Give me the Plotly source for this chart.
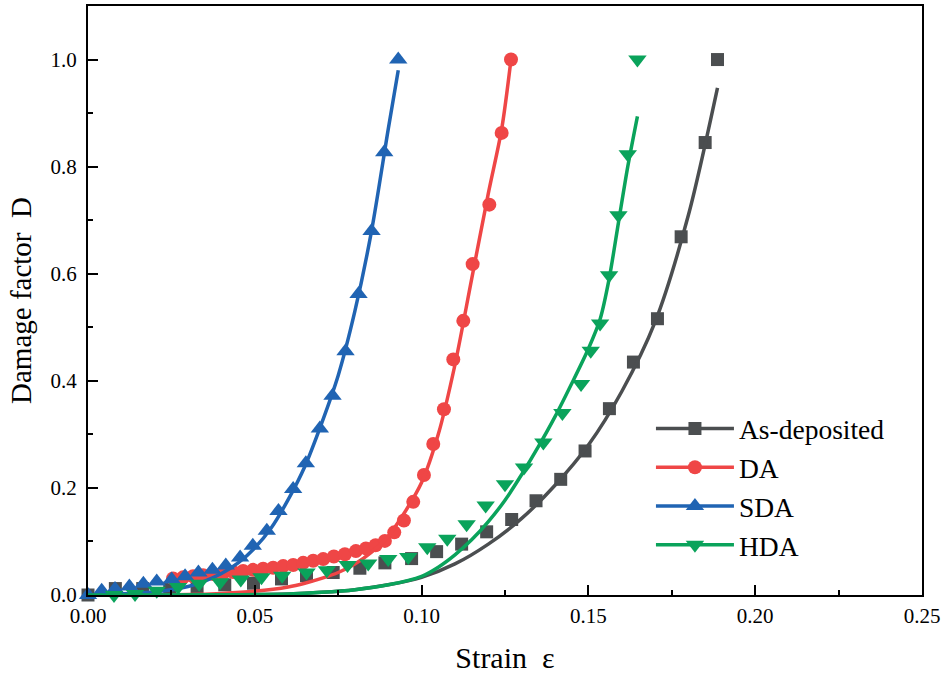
import plotly.graph_objects as go

# ---------------- data ----------------
series_names = ["As-deposited", "DA", "SDA", "HDA"]

asdep_x = [0, 0.0082, 0.0164, 0.0245, 0.0327, 0.041, 0.0496, 0.058, 0.0655, 0.0735,
           0.0815, 0.089, 0.097, 0.1045, 0.112, 0.1195, 0.127, 0.1343, 0.1417, 0.149,
           0.1563, 0.1635, 0.1707, 0.1778, 0.185, 0.1887]
asdep_y = [0, 0.012, 0.012, 0.013, 0.015, 0.019, 0.022, 0.030, 0.036, 0.042,
           0.050, 0.060, 0.068, 0.081, 0.095, 0.118, 0.141, 0.176, 0.216, 0.269,
           0.348, 0.435, 0.516, 0.669, 0.845, 1.0]
asdep_fit_x = [0, 0.03, 0.05, 0.06, 0.07, 0.08, 0.09, 0.10, 0.11, 0.12, 0.13, 0.14,
               0.15, 0.16, 0.17, 0.18, 0.1887]
asdep_fit_y = [0, 0.0, 0.001, 0.002, 0.005, 0.010, 0.019, 0.033, 0.058, 0.095, 0.143, 0.205,
               0.28, 0.38, 0.51, 0.71, 0.947]

da_x = [0.0255, 0.0285, 0.0315, 0.0345, 0.0375, 0.0405, 0.0435, 0.0465, 0.0495, 0.0525,
        0.0555, 0.0585, 0.0615, 0.0645, 0.0675, 0.0705, 0.0737, 0.077, 0.0803, 0.0833,
        0.0862, 0.089, 0.0918, 0.0947, 0.0975, 0.1007, 0.1035, 0.1067, 0.1095, 0.1125,
        0.1153, 0.1203, 0.124, 0.1268]
da_y = [0.031, 0.033, 0.035, 0.037, 0.039, 0.041, 0.043, 0.045, 0.047, 0.049,
        0.051, 0.054, 0.056, 0.060, 0.064, 0.067, 0.072, 0.076, 0.082, 0.087,
        0.093, 0.101, 0.117, 0.139, 0.174, 0.224, 0.282, 0.347, 0.440, 0.512,
        0.618, 0.729, 0.863, 1.0]
da_fit_x = [0, 0.03, 0.04, 0.05, 0.06, 0.065, 0.07, 0.075, 0.08, 0.085, 0.09, 0.095,
            0.1, 0.105, 0.11, 0.115, 0.12, 0.124, 0.1268]
da_fit_y = [0, 0.001, 0.003, 0.007, 0.015, 0.022, 0.031, 0.042, 0.058, 0.08, 0.11, 0.155,
            0.21, 0.30, 0.43, 0.59, 0.75, 0.87, 1.0]

sda_x = [0, 0.0041, 0.0081, 0.0124, 0.0166, 0.0206, 0.0251, 0.0291, 0.0331, 0.0373,
         0.0413, 0.0456, 0.0494, 0.0536, 0.0571, 0.0615, 0.0653, 0.0695, 0.0733, 0.0772,
         0.0811, 0.0850, 0.0888, 0.0930]
sda_y = [0, 0.008, 0.011, 0.016, 0.021, 0.025, 0.029, 0.035, 0.042, 0.047,
         0.055, 0.070, 0.092, 0.120, 0.157, 0.198, 0.246, 0.311, 0.372, 0.455,
         0.562, 0.680, 0.827, 1.0]
sda_fit_x = [0, 0.01, 0.02, 0.03, 0.035, 0.04, 0.045, 0.05, 0.055, 0.06, 0.065, 0.07,
             0.075, 0.08, 0.085, 0.09, 0.093]
sda_fit_y = [0, 0.002, 0.006, 0.016, 0.026, 0.040, 0.060, 0.088, 0.126, 0.178, 0.24, 0.32,
             0.41, 0.53, 0.68, 0.87, 0.98]

hda_x = [0.0078, 0.0141, 0.0206, 0.027, 0.0333, 0.0396, 0.0458, 0.052, 0.0582, 0.0655,
         0.0716, 0.0778, 0.084, 0.090, 0.096, 0.1017, 0.1077, 0.1135, 0.1192, 0.125,
         0.1307, 0.1365, 0.1422, 0.1478, 0.1507, 0.1535, 0.1562, 0.159, 0.1618, 0.1647]
hda_y = [0.0, 0.002, 0.008, 0.015, 0.021, 0.024, 0.029, 0.033, 0.036, 0.042,
         0.046, 0.056, 0.059, 0.067, 0.071, 0.089, 0.105, 0.132, 0.167, 0.207,
         0.238, 0.285, 0.340, 0.394, 0.456, 0.507, 0.597, 0.709, 0.823, 1.0]
hda_fit_x = [0, 0.04, 0.06, 0.07, 0.08, 0.09, 0.10, 0.105, 0.11, 0.115, 0.12, 0.125,
             0.13, 0.135, 0.14, 0.145, 0.15, 0.1535, 0.1562, 0.159, 0.1618, 0.1647]
hda_fit_y = [0, 0.0005, 0.002, 0.005, 0.010, 0.019, 0.035, 0.052, 0.075, 0.103, 0.137, 0.177,
             0.225, 0.277, 0.333, 0.395, 0.46, 0.515, 0.59, 0.695, 0.80, 0.894]

x_ticks = [0.00, 0.05, 0.10, 0.15, 0.20, 0.25]
y_ticks = [0.0, 0.2, 0.4, 0.6, 0.8, 1.0]

# ---------------- styles ----------------
colors = ["#4b4e50", "#ef4646", "#2064b3", "#0aa35b"]
symbols = ["square", "circle", "triangle-up", "triangle-down"]
sizes = [13, 14, 16, 16]

pts = [(asdep_x, asdep_y), (da_x, da_y), (sda_x, sda_y), (hda_x, hda_y)]
fits = [(asdep_fit_x, asdep_fit_y), (da_fit_x, da_fit_y), (sda_fit_x, sda_fit_y),
        (hda_fit_x, hda_fit_y)]

fig = go.Figure()
for i, name in enumerate(series_names):
    fig.add_trace(go.Scatter(
        x=pts[i][0], y=pts[i][1], mode="markers", name=name, showlegend=False,
        marker=dict(symbol=symbols[i], size=sizes[i], color=colors[i], line=dict(width=0)),
        cliponaxis=False))
    fig.add_trace(go.Scatter(
        x=fits[i][0], y=fits[i][1], mode="lines", name=name, showlegend=False,
        line=dict(color=colors[i], width=3.5, shape="spline", smoothing=0.8)))

# legend entries
for i, name in enumerate(series_names):
    fig.add_trace(go.Scatter(
        x=[None], y=[None], mode="lines+markers", name=name,
        marker=dict(symbol=symbols[i], size=sizes[i], color=colors[i]),
        line=dict(color=colors[i], width=3.5)))

FF = "Liberation Serif"
fig.update_layout(
    template="none",
    width=948, height=686,
    margin=dict(l=88, r=26, t=6, b=91),
    plot_bgcolor="white", paper_bgcolor="white",
    font=dict(family=FF, color="black", size=21),
    showlegend=True,
    legend=dict(x=0.675, y=0.324, xanchor="left", yanchor="top",
                font=dict(size=27.5, family=FF, color="black"), bgcolor="rgba(0,0,0,0)",
                itemwidth=78, tracegroupgap=0, borderwidth=0),
    xaxis=dict(range=[0, 0.25], tickvals=x_ticks, ticktext=[f"{v:.2f}" for v in x_ticks],
               ticks="inside", ticklen=10, tickwidth=2, tickcolor="black",
               minor=dict(ticks="inside", ticklen=5, tickwidth=2, dtick=0.025, tickcolor="black",
                          showgrid=False),
               showline=True, linewidth=2, linecolor="black", mirror=True,
               showgrid=False, zeroline=False,
               tickfont=dict(size=21, family=FF, color="black"), ticklabelstandoff=1,
               title=dict(text="Strain  ε", font=dict(size=30, family=FF, color="black"),
                          standoff=20)),
    yaxis=dict(range=[0, 1.1], tickvals=y_ticks, ticktext=[f"{v:.1f}" for v in y_ticks],
               ticks="inside", ticklen=10, tickwidth=2, tickcolor="black",
               minor=dict(ticks="inside", ticklen=5, tickwidth=2, dtick=0.1, tickcolor="black",
                          showgrid=False),
               showline=True, linewidth=2, linecolor="black", mirror=True,
               showgrid=False, zeroline=False,
               tickfont=dict(size=21, family=FF, color="black"), ticklabelstandoff=5,
               title=dict(text="Damage factor  D", font=dict(size=29, family=FF, color="black"),
                          standoff=10)),
)

fig.write_html("out.html", config={"displayModeBar": False},
               post_script="document.body.style.margin='0px';")
